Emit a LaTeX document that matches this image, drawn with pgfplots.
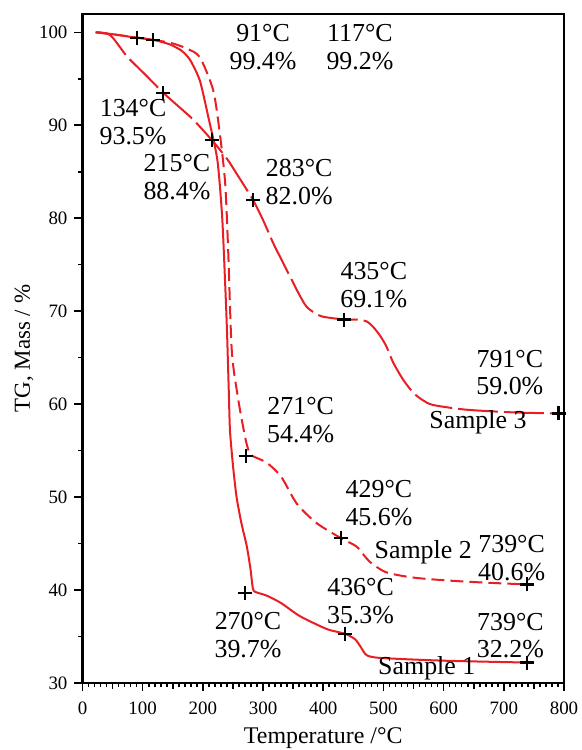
\documentclass[border=0pt]{standalone}
\usepackage{fontspec}
\setmainfont{Liberation Serif}
\usepackage{pgfplots}
\pgfplotsset{compat=1.18}

\definecolor{tgred}{RGB}{232,30,36}
\newcommand{\annot}{\fontsize{13}{14}\selectfont}

\begin{document}
\begin{tikzpicture}
\useasboundingbox (-41.25bp,-33.5bp) rectangle (249.75bp,341.5bp);
\begin{axis}[
  scale only axis,
  width=240.75bp, height=334.5bp,
  xmin=0, xmax=800, ymin=30, ymax=101.97,
  xtick={0,100,...,800}, ytick={30,40,...,100},
  minor x tick num=9, minor y tick num=1,
  extra x ticks={50,150,...,750},
  extra x tick labels={},
  extra x tick style={major tick length=3bp, grid=none},
  xtick pos=bottom, ytick pos=left,
  tick align=outside,
  major tick length=4bp, minor tick length=2bp,
  every tick/.style={black, line width=0.8bp},
  axis line style={line width=1.1bp},
  /pgf/number format/assume math mode=true,
  ticklabel style={font=\fontsize{9.5}{10}\selectfont},
  xticklabel style={yshift=-2bp},
  xlabel={Temperature /°C},
  ylabel={TG, Mass / \%},
  xlabel style={font=\fontsize{12}{13}\selectfont, yshift=7.5bp},
  ylabel style={font=\fontsize{11.5}{12}\selectfont, yshift=-4bp},
  clip=false,
]
% Sample 1 (solid)
\addplot[tgred, line width=1bp, smooth, tension=0.4] coordinates {
 (22,100) (50,99.8) (91,99.4) (117,99.2) (145,98.7) (165,98.0) (179,97.0)
 (195,94.8) (209,90.9) (224,86.3) (232,80.2) (237,73.0) (240,68.0) (243,61.5)
 (245,57.2) (250,53.4) (256,50.0) (264,47.2) (273,44.7) (279,42.3) (283,40.2)
 (287,39.8) (306,39.4) (330,38.6) (361,37.2) (406,35.8) (436,35.3) (453,34.7)
 (463,33.8) (472,33.0) (494,32.7) (600,32.4) (739,32.2)
};
% Sample 2 (short dashes)
\addplot[tgred, line width=1bp, smooth, tension=0.45, dash pattern=on 6.5bp off 3bp] coordinates {
 (22,100) (60,99.7) (117,99.2) (150,98.8) (175,98.2) (195,97.3) (217,93.8)
 (228,89.2) (237,83.8) (242,76.6) (248,65.8) (258,60.8) (270,56.5) (277,54.8)
 (283,54.4) (306,53.7) (330,52.2) (356,49.3) (389,47.2) (429,45.6) (455,44.7)
 (467,43.8) (478,43.0) (505,41.9) (555,41.3) (638,40.9) (739,40.6)
};
% Sample 3 (long dashes)
\addplot[tgred, line width=1bp, smooth, tension=0.45, dash pattern=on 20bp off 3bp] coordinates {
 (22,100) (46,99.7) (74,97.4) (105,95.4) (134,93.5) (160,92.0) (184,90.6)
 (215,88.4) (240,86.4) (256,84.8) (283,82.0) (300,79.8) (317,77.3) (331,75.5)
 (345,73.7) (360,71.8) (372,70.5) (386,69.8) (400,69.4) (435,69.1) (455,69.1)
 (472,68.9) (483,68.3) (494,67.4) (505,66.2) (516,64.5) (533,62.6) (550,61.2)
 (566,60.4) (583,59.9) (638,59.4) (720,59.1) (791,59.0)
};
% Marked points
\addplot[only marks, mark=+, mark size=3.5bp, black, line width=1.1bp] coordinates {
 (91,99.4) (117,99.2) (134,93.5) (215,88.4) (283,82.0) (435,69.1) (791,59.0)
 (271,54.4) (429,45.6) (739,40.6)
 (270,39.7) (436,35.3) (739,32.2)
};
% Point labels
\node[align=center, font=\annot] at (axis cs:300,98.4) {91°C\\99.4\%};
\node[align=center, font=\annot] at (axis cs:461,98.4) {117°C\\99.2\%};
\node[align=center, font=\annot] at (axis cs:84,90.3) {134°C\\93.5\%};
\node[align=center, font=\annot] at (axis cs:157,84.4) {215°C\\88.4\%};
\node[align=center, font=\annot] at (axis cs:360,83.9) {283°C\\82.0\%};
\node[align=center, font=\annot] at (axis cs:484,72.8) {435°C\\69.1\%};
\node[align=center, font=\annot] at (axis cs:710,63.4) {791°C\\59.0\%};
\node[align=center, font=\annot] at (axis cs:362.5,58.3) {271°C\\54.4\%};
\node[align=center, font=\annot] at (axis cs:492.6,49.4) {429°C\\45.6\%};
\node[align=center, font=\annot] at (axis cs:713,43.4) {739°C\\40.6\%};
\node[align=center, font=\annot] at (axis cs:275,35.2) {270°C\\39.7\%};
\node[align=center, font=\annot] at (axis cs:462,38.8) {436°C\\35.3\%};
\node[align=center, font=\annot] at (axis cs:711,35.1) {739°C\\32.2\%};
\node[font=\annot] at (axis cs:657,58.0) {Sample 3};
\node[font=\annot] at (axis cs:566,44.1) {Sample 2};
\node[font=\annot] at (axis cs:572,31.6) {Sample 1};
\end{axis}
\end{tikzpicture}
\end{document}
